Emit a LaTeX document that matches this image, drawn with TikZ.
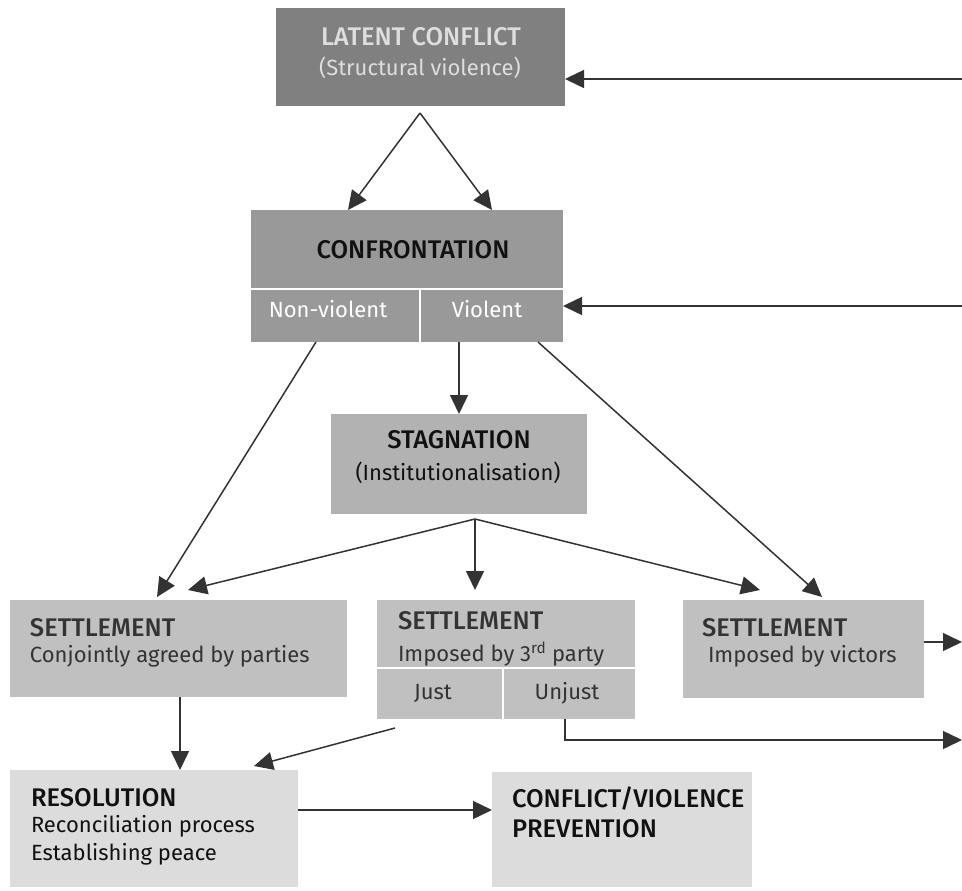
\documentclass[tikz,border=0pt]{standalone}
\usepackage{fontspec}
\setmainfont{Fira Sans}[BoldFont={Fira Sans Medium}]
\usetikzlibrary{arrows.meta,calc}

\definecolor{arrowgray}{HTML}{333333}
\definecolor{latfill}{HTML}{808080}
\definecolor{latink}{HTML}{DEDEDE}
\definecolor{conffill}{HTML}{999999}
\definecolor{stagfill}{HTML}{B2B2B2}
\definecolor{setfill}{HTML}{C0C0C0}
\definecolor{resfill}{HTML}{DCDCDC}
\definecolor{darkink}{HTML}{111111}
\definecolor{setink}{HTML}{333333}

\tikzset{
  box/.style={rectangle, inner sep=0, outer sep=0, draw=none},
  lbl/.style={inner sep=0, outer sep=0, font=\fontsize{22}{26}\selectfont},
  ttl/.style={lbl, font=\fontsize{25.5}{28}\selectfont\bfseries},
  arr/.style={draw=arrowgray, line width=1.5pt,
    -{Triangle[length=19pt, width=18pt]}, fill=none},
  divider/.style={draw=white, line width=1.5pt}
}

\begin{document}
\begin{tikzpicture}[x=1pt, y=-1pt]
\useasboundingbox (0,0) rectangle (962,891);

% boxes
\node[box, fill=latfill, minimum width=289pt, minimum height=98pt] (lat) at (420.5,57) {};
\node[box, fill=conffill, minimum width=312pt, minimum height=132pt] (conf) at (407,276) {};
\node[box, fill=stagfill, minimum width=256pt, minimum height=100pt] (stag) at (459,464) {};
\node[box, fill=setfill, minimum width=337pt, minimum height=97pt] (setA) at (178.5,648.5) {};
\node[box, fill=setfill, minimum width=258pt, minimum height=119pt] (setB) at (506,659.5) {};
\node[box, fill=setfill, minimum width=241pt, minimum height=98pt] (setC) at (803.5,649) {};
\node[box, fill=resfill, minimum width=288pt, minimum height=117pt] (res) at (154,828.5) {};
\node[box, fill=resfill, minimum width=260pt, minimum height=115pt] (prev) at (622,829.5) {};

% dividers inside split boxes
\coordinate (confSplitL) at (251,289);
\coordinate (confSplitR) at (563,289);
\coordinate (confMidTop) at (420,289);
\coordinate (confMidBot) at (420,342);
\draw[divider] (confSplitL) -- (confSplitR);
\draw[divider] (confMidTop) -- (confMidBot);
\coordinate (setBSplitL) at (377,668);
\coordinate (setBSplitR) at (635,668);
\coordinate (setBMidTop) at (503,668);
\coordinate (setBMidBot) at (503,719);
\draw[divider] (setBSplitL) -- (setBSplitR);
\draw[divider] (setBMidTop) -- (setBMidBot);

% texts
\node[ttl, text=latink] (latT) at (421,37) {LATENT CONFLICT};
\node[lbl, text=latink] (latS) at (420,68) {(Structural violence)};
\node[ttl, text=darkink] (confT) at (413,250) {CONFRONTATION};
\node[lbl, text=white] (confNV) at (328,309) {Non-violent};
\node[lbl, text=white] (confV) at (487,309) {Violent};
\node[ttl, text=darkink] (stagT) at (459,440) {STAGNATION};
\node[lbl, text=darkink] (stagS) at (458,473) {(Institutionalisation)};
\node[ttl, text=setink, anchor=west] (setAT) at (30,628) {SETTLEMENT};
\node[lbl, text=setink, anchor=west] (setAS) at (30,656) {Conjointly agreed by parties};
\node[ttl, text=setink, anchor=west] (setBT) at (398,621) {SETTLEMENT};
\node[lbl, text=setink, anchor=west] (setBS) at (398,654) {Imposed by 3\textsuperscript{rd} party};
\node[lbl, text=setink] (setBJ) at (433,693) {Just};
\node[lbl, text=setink] (setBU) at (567,693) {Unjust};
\node[ttl, text=setink, anchor=west] (setCT) at (702,628) {SETTLEMENT};
\node[lbl, text=setink, anchor=west] (setCS) at (708,656) {Imposed by victors};
\node[ttl, text=darkink, anchor=west] (resT) at (31,798) {RESOLUTION};
\node[lbl, text=darkink, anchor=west] (resA) at (31,826) {Reconciliation process};
\node[lbl, text=darkink, anchor=west] (resB) at (31,854) {Establishing peace};
\node[ttl, text=darkink, anchor=west] (prevA) at (512,799) {CONFLICT/VIOLENCE};
\node[ttl, text=darkink, anchor=west] (prevB) at (512,829) {PREVENTION};

% connector anchor points
\coordinate (feedTop) at (962,79);
\coordinate (feedMid) at (962,306);
\coordinate (latApex) at (420,113);
\coordinate (confInL) at (348,210);
\coordinate (confInR) at (492,210);
\coordinate (nvOut) at (316,342);
\coordinate (vOut) at (538,342);
\coordinate (stagApex) at (475,519);
\coordinate (setAInR) at (188,590);
\coordinate (setAInL) at (157,597);
\coordinate (setBIn) at (475,590);
\coordinate (setCInL) at (760,590);
\coordinate (setCInR) at (822,597);
\coordinate (setCOut) at (962,642);
\coordinate (unjustOut) at (962,740);
\coordinate (unjustCorner) at (565,740);
\coordinate (justOut) at (395,728);
\coordinate (resInR) at (254,766);

% connectors
\draw[arr] (feedTop) -- (feedTop -| lat.east);
\draw[arr] (feedMid) -- (feedMid -| conf.east);
\draw[arr] (latApex) -- (confInL);
\draw[arr] (latApex) -- (confInR);
\draw[arr] (conf.south -| stag.north) -- (stag.north);
\draw[arr] (nvOut) -- (setAInL);
\draw[arr] (vOut) -- (setCInR);
\draw[arr] (stagApex) -- (setAInR);
\draw[arr] (stagApex) -- (setBIn);
\draw[arr] (stagApex) -- (setCInL);
\draw[arr] (setA.south -| 180,0) -- (res.north -| 180,0);
\draw[arr] (justOut) -- (resInR);
\draw[arr] (setC.east |- setCOut) -- (setCOut);
\draw[arr] (setB.south -| unjustCorner) -- (unjustCorner) -- (unjustOut);
\draw[arr] (res.east |- 0,810) -- (prev.west |- 0,810);
\end{tikzpicture}
\end{document}
